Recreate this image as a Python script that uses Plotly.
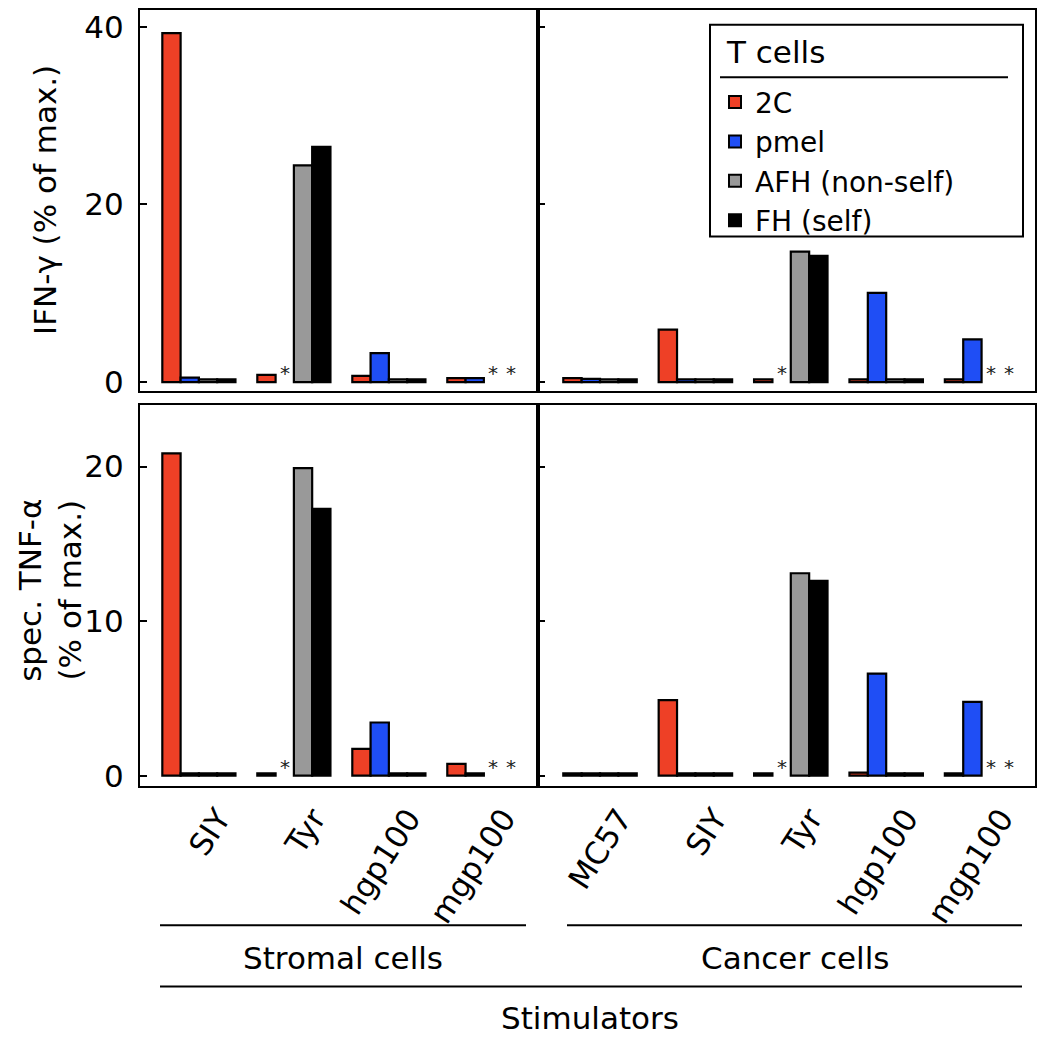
import plotly.graph_objects as go

OFF = 8  # default page body margin
W, H = 1046 - OFF, 1050 - OFF

series = ["2C", "pmel", "AFH (non-self)", "FH (self)"]
colors = ["#EE4026", "#1F4EF5", "#999999", "#000000"]

stromal_cats = ["SIY", "Tyr", "hgp100", "mgp100"]
cancer_cats = ["MC57", "SIY", "Tyr", "hgp100", "mgp100"]

# None = not tested (marked with *)
ifn_stromal_2C = [39.3, 0.8, 0.7, 0.45]
ifn_stromal_pmel = [0.5, None, 3.25, 0.45]
ifn_stromal_afh = [0.3, 24.4, 0.3, None]
ifn_stromal_fh = [0.3, 26.5, 0.3, None]

ifn_cancer_2C = [0.45, 5.9, 0.3, 0.3, 0.3]
ifn_cancer_pmel = [0.35, 0.3, None, 10.05, 4.8]
ifn_cancer_afh = [0.3, 0.3, 14.7, 0.3, None]
ifn_cancer_fh = [0.3, 0.3, 14.2, 0.3, None]

tnf_stromal_2C = [20.85, 0.15, 1.73, 0.77]
tnf_stromal_pmel = [0.15, None, 3.44, 0.15]
tnf_stromal_afh = [0.15, 19.9, 0.15, None]
tnf_stromal_fh = [0.15, 17.26, 0.15, None]

tnf_cancer_2C = [0.15, 4.89, 0.15, 0.2, 0.15]
tnf_cancer_pmel = [0.15, 0.15, None, 6.6, 4.78]
tnf_cancer_afh = [0.15, 0.15, 13.1, 0.15, None]
tnf_cancer_fh = [0.15, 0.15, 12.6, 0.15, None]

y_ticks_ifn = [0, 20, 40]
y_ticks_tnf = [0, 10, 20]

FONT = "DejaVu Sans, Arial, sans-serif"
FS = 31
LEG_FS = 28


def px(x):
    return (x - OFF) / W


def py(y):
    return 1 - (y - OFF) / H


panels = [
    ("x", "y", stromal_cats, [ifn_stromal_2C, ifn_stromal_pmel, ifn_stromal_afh, ifn_stromal_fh], True),
    ("x2", "y2", cancer_cats, [ifn_cancer_2C, ifn_cancer_pmel, ifn_cancer_afh, ifn_cancer_fh], False),
    ("x3", "y3", stromal_cats, [tnf_stromal_2C, tnf_stromal_pmel, tnf_stromal_afh, tnf_stromal_fh], False),
    ("x4", "y4", cancer_cats, [tnf_cancer_2C, tnf_cancer_pmel, tnf_cancer_afh, tnf_cancer_fh], False),
]

BARGAP = 0.23
UNIT_PX = 95.0  # px per category (for asterisk offsets)
bar_px = UNIT_PX * (1 - BARGAP) / 4

fig = go.Figure()
annotations = []
for xa, ya, cats, data, show in panels:
    for k, (name, col, vals) in enumerate(zip(series, colors, data)):
        fig.add_trace(go.Bar(
            x=cats, y=vals, name=name, legendgroup=name, showlegend=show,
            marker=dict(color=col, line=dict(color="black", width=2.2)),
            xaxis=xa, yaxis=ya,
        ))
        for c, v in zip(cats, vals):
            if v is None:
                annotations.append(dict(
                    x=c, y=0, xref=xa, yref=ya, text="*", showarrow=False,
                    xshift=(k - 1.5) * bar_px, yshift=9, xanchor="center", yanchor="middle",
                    font=dict(size=20, color="#222222", family=FONT),
                ))

axis_line = dict(showline=True, linecolor="black", linewidth=2, mirror=True,
                 showgrid=False, zeroline=False)

xl = [px(140), px(538)]
xr = [px(538), px(1035)]
yt = [py(393), py(8)]
yb = [py(792), py(407)]

xcommon = dict(type="category", ticks="", **axis_line,
               tickfont=dict(size=FS, family=FONT, color="black"))
fig.update_layout(
    xaxis=dict(domain=xl, anchor="y", range=[-0.62, 3.57], showticklabels=False,
               categoryorder="array", categoryarray=stromal_cats, **xcommon),
    xaxis2=dict(domain=xr, anchor="y2", range=[-0.65, 4.56], showticklabels=False,
                categoryorder="array", categoryarray=cancer_cats, **xcommon),
    xaxis3=dict(domain=xl, anchor="y3", range=[-0.62, 3.57], tickangle=-57,
                ticklabelshift=20,
                categoryorder="array", categoryarray=stromal_cats, **xcommon),
    xaxis4=dict(domain=xr, anchor="y4", range=[-0.65, 4.56], tickangle=-57,
                ticklabelshift=20,
                categoryorder="array", categoryarray=cancer_cats, **xcommon),
)
ycommon = dict(ticks="inside", ticklen=7, tickwidth=2, tickcolor="black", **axis_line,
               tickfont=dict(size=FS, family=FONT, color="black"))
fig.update_layout(
    yaxis=dict(domain=yt, anchor="x", range=[-1, 41.9], tickvals=y_ticks_ifn,
               ticklabelstandoff=8, **ycommon),
    yaxis2=dict(domain=yt, anchor="x2", range=[-1, 41.9], tickvals=y_ticks_ifn,
                showticklabels=False, **ycommon),
    yaxis3=dict(domain=yb, anchor="x3", range=[-0.65, 24], tickvals=y_ticks_tnf,
                ticklabelstandoff=8, **ycommon),
    yaxis4=dict(domain=yb, anchor="x4", range=[-0.65, 24], tickvals=y_ticks_tnf,
                showticklabels=False, **ycommon),
)


def label(x, y, text, **kw):
    d = dict(x=px(x), y=py(y), xref="paper", yref="paper", text=text, showarrow=False,
             xanchor="center", yanchor="middle",
             font=dict(size=FS, family=FONT, color="black"))
    d.update(kw)
    return d


annotations += [
    label(45, 200, "IFN-γ (% of max.)", textangle=-90),
    label(50, 595, "spec. TNF-α<br>(% of max.)", textangle=-90),
    label(343, 966, "Stromal cells"),
    label(795, 966, "Cancer cells"),
    label(590, 1027, "Stimulators"),
    label(724, 50, "T cells", xanchor="left"),
]

shapes = [
    dict(type="line", xref="paper", yref="paper", x0=px(160), x1=px(526), y0=py(933), y1=py(933),
         line=dict(color="black", width=2)),
    dict(type="line", xref="paper", yref="paper", x0=px(567), x1=px(1022), y0=py(933), y1=py(933),
         line=dict(color="black", width=2)),
    dict(type="line", xref="paper", yref="paper", x0=px(160), x1=px(1022), y0=py(995), y1=py(995),
         line=dict(color="black", width=2)),
    # legend frame and title underline
    dict(type="rect", xref="paper", yref="paper", x0=px(710), x1=px(1023), y0=py(237), y1=py(23),
         line=dict(color="black", width=2), fillcolor="rgba(0,0,0,0)", layer="above"),
    dict(type="line", xref="paper", yref="paper", x0=px(720), x1=px(1008), y0=py(76), y1=py(76),
         line=dict(color="black", width=2), layer="above"),
]

fig.update_layout(
    width=W, height=H,
    margin=dict(l=0, r=0, t=0, b=0),
    paper_bgcolor="white", plot_bgcolor="white",
    barmode="group", bargap=BARGAP, bargroupgap=0,
    font=dict(family=FONT, color="black", size=FS),
    annotations=annotations,
    shapes=shapes,
    legend=dict(x=px(715), y=py(76), xanchor="left", yanchor="top",
                bgcolor="rgba(0,0,0,0)", borderwidth=0,
                font=dict(size=LEG_FS, family=FONT, color="black"),
                tracegroupgap=0, itemsizing="constant"),
)

fig.write_html("out.html")
